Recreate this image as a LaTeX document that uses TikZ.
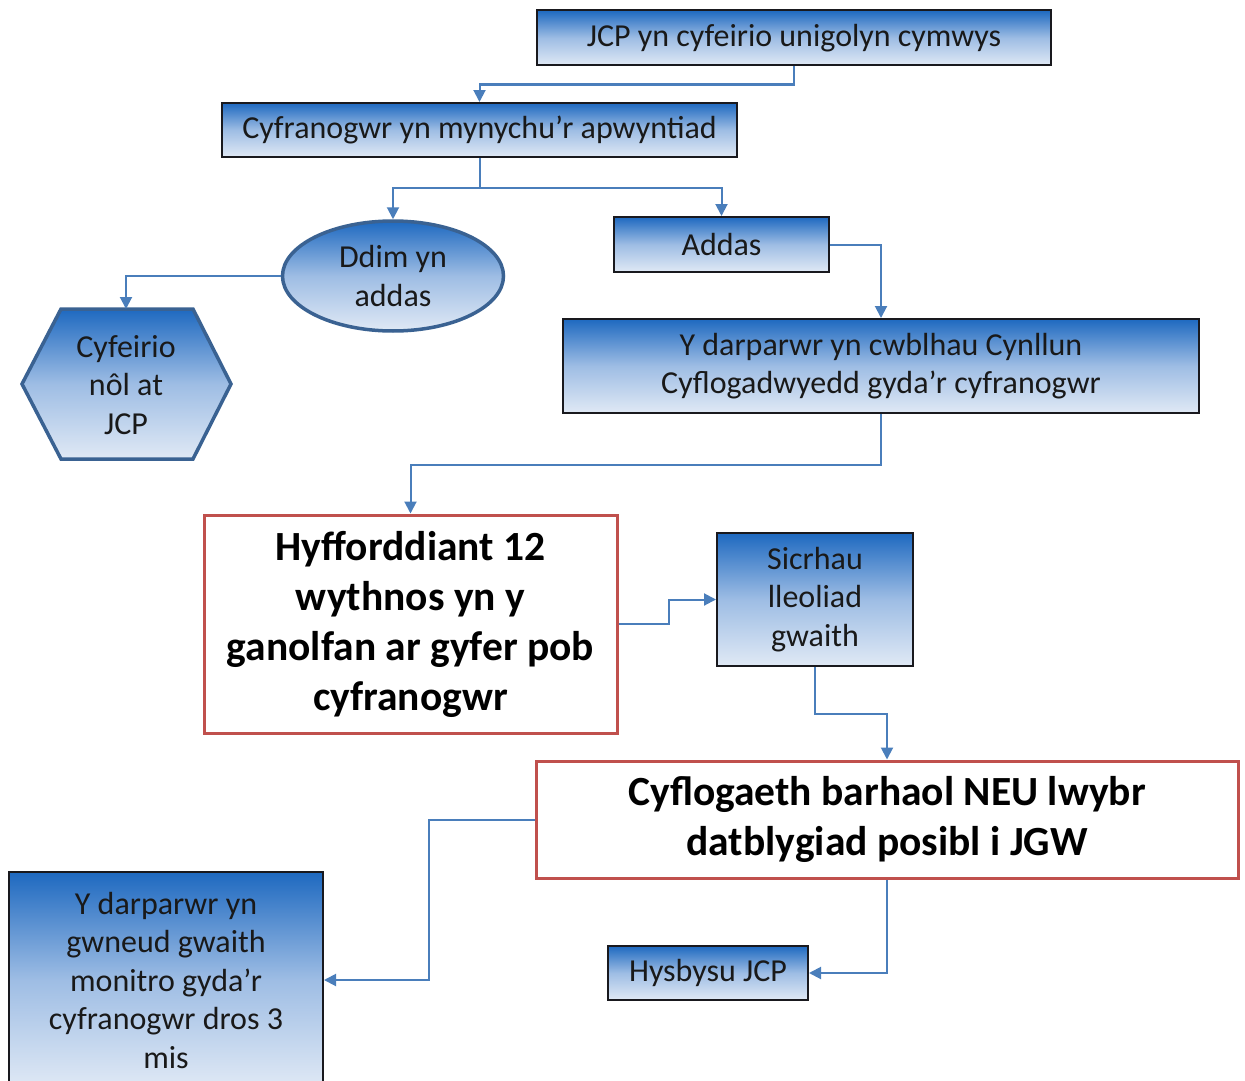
\documentclass[tikz,border=0pt]{standalone}
\usepackage{fontspec}
\setmainfont{Carlito}
\usetikzlibrary{arrows.meta,shapes.geometric}
\definecolor{gtop}{RGB}{30,105,192}
\definecolor{gmid}{RGB}{158,189,228}
\definecolor{gbot}{RGB}{224,233,245}
\definecolor{boxborder}{RGB}{25,25,30}
\definecolor{shapeborder}{RGB}{58,98,146}
\definecolor{redborder}{RGB}{192,80,77}
\definecolor{conncol}{RGB}{74,126,187}
\newcommand{\normfont}{\fontsize{32}{38.5}\selectfont}
\newcommand{\boldfont}{\fontsize{41.5}{50}\selectfont\bfseries}
\tikzset{
  bluebox/.style={rectangle, draw=boxborder, line width=2pt, top color=gtop, bottom color=gbot, middle color=gmid, inner sep=0pt, align=center, font=\normfont, text=black!90},
  oneline/.style={text height=24pt, text depth=6.5pt},
  blueshape/.style={draw=shapeborder, line width=3.5pt, top color=gtop, bottom color=gbot, middle color=gmid},
  redbox/.style={rectangle, draw=redborder, line width=3pt, fill=white, inner sep=0pt, align=center, font=\boldfont, text=black},
  conn/.style={draw=conncol, line width=2pt, -{Triangle[length=12pt,width=12pt]}},
  lbl/.style={align=center, font=\normfont, text=black!90, inner sep=0pt}
}
\begin{document}
\begin{tikzpicture}[x=1pt,y=-1pt]
\useasboundingbox (0,0) rectangle (1245,1081);
% nodes
\node[bluebox, oneline, minimum width=514pt, minimum height=55pt] (jcp) at (794,38) {JCP yn cyfeirio unigolyn cymwys};
\node[bluebox, oneline, minimum width=515pt, minimum height=54pt] (cyf) at (479.5,130) {Cyfranogwr yn mynychu’r apwyntiad};
\node[ellipse, blueshape, minimum width=221pt, minimum height=110pt, inner sep=0pt, align=center, font=\normfont, text=black!90] (ddim) at (393,276) {Ddim yn\\addas};
\node[bluebox, minimum width=215pt, minimum height=55pt] (addas) at (721.5,244.5) {Addas};
% hexagon
\path[blueshape] (61,309) -- (193,309) -- (231,384) -- (193,459) -- (61,459) -- (22,384) -- cycle;
\node[lbl] (hex) at (126,385) {Cyfeirio\\nôl at\\JCP};
\coordinate (hextop) at (126,309);
\node[bluebox, minimum width=636pt, minimum height=94pt] (ydarp) at (881,366) {Y darparwr yn cwblhau Cynllun\\Cyflogadwyedd gyda’r cyfranogwr};
\node[redbox, minimum width=413pt, minimum height=218pt] (hyff) at (410.5,624) {Hyfforddiant 12\\wythnos yn y\\ganolfan ar gyfer pob\\cyfranogwr};
\node[bluebox, minimum width=196pt, minimum height=133pt] (sic) at (815,599.5) {Sicrhau\\lleoliad\\gwaith};
\node[redbox, minimum width=702pt, minimum height=117pt] (cyfl) at (887,819.5) {Cyflogaeth barhaol NEU lwybr\\datblygiad posibl i JGW};
\node[bluebox, minimum width=314pt, minimum height=216pt] (mon) at (166,980) {Y darparwr yn\\gwneud gwaith\\monitro gyda’r\\cyfranogwr dros 3\\mis};
\node[bluebox, oneline, minimum width=200pt, minimum height=54pt] (hys) at (708,973) {Hysbysu JCP};
% connectors
\draw[conn] (jcp.south) -- ++(0,18) -| (cyf.north);
\draw[conn] (cyf.south) -- ++(0,30) -| (ddim.north);
\draw[conn] (cyf.south) -- ++(0,30) -| (addas.north);
\draw[conn] (ddim.west) -| (hextop);
\draw[conn] (addas.east) -| (ydarp.north);
\draw[conn] (ydarp.south) -- ++(0,51) -| (hyff.north);
\draw[conn] (hyff.east) -- ++(50,0) |- (sic.west);
\draw[conn] (sic.south) -- ++(0,47) -| (cyfl.north);
\draw[conn] (cyfl.west) -- ++(-106,0) |- (mon.east);
\draw[conn] (cyfl.south) |- (hys.east);
\end{tikzpicture}
\end{document}
